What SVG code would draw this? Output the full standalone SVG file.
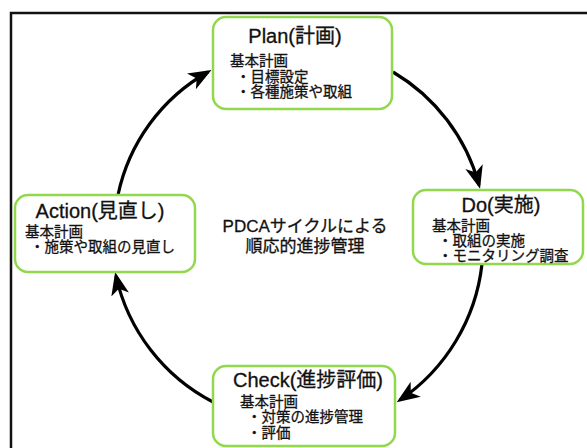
<svg xmlns="http://www.w3.org/2000/svg" width="587" height="448" viewBox="0 0 587 448">
<defs>
<style>
.box{fill:#fff;stroke:#92d84e;stroke-width:2.5}
.t{font-family:"Liberation Sans","Noto Sans CJK JP",sans-serif;fill:#111;stroke:#111;stroke-width:0.3}
.title{font-size:20px;text-anchor:middle}
.body{font-size:14.5px}
.center{font-size:17px;text-anchor:middle}
.arc{fill:none;stroke:#000;stroke-width:3.2}
</style>
<marker id="ah" markerUnits="userSpaceOnUse" markerWidth="28" markerHeight="22" refX="19" refY="11" orient="auto">
<path d="M0,2 L23,11 L0,20 L6,11 Z" fill="#000"/>
</marker>
</defs>
<rect width="587" height="448" fill="#fff"/>
<g id="frame">
<path d="M11,448 L11,13 L587,13" fill="none" stroke="#111" stroke-width="2.5"/>
</g>
<g id="connectors">
<path class="arc" d="M118,195 A185,185 0 0 1 208,72" marker-end="url(#ah)"/>
<path class="arc" d="M393,72 A188,188 0 0 1 479,185" marker-end="url(#ah)"/>
<path class="arc" d="M482,264 A190,190 0 0 1 400,400" marker-end="url(#ah)"/>
<path class="arc" d="M213,402 A188,188 0 0 1 116,276" marker-end="url(#ah)"/>
</g>
<g id="plan">
<rect class="box" x="213" y="17" width="179" height="92" rx="13"/>
<text class="t title" x="295" y="43">Plan(計画)</text>
<text class="t body" x="230" y="66">基本計画</text>
<text class="t body" x="236" y="82">・目標設定</text>
<text class="t body" x="236" y="97">・各種施策や取組</text>
</g>
<g id="do">
<rect class="box" x="413" y="190" width="170" height="74" rx="13"/>
<text class="t title" x="501" y="212">Do(実施)</text>
<text class="t body" x="432" y="231">基本計画</text>
<text class="t body" x="438" y="246">・取組の実施</text>
<text class="t body" x="438" y="261">・モニタリング調査</text>
</g>
<g id="action">
<rect class="box" x="15" y="195" width="180" height="77" rx="13"/>
<text class="t title" x="100" y="218">Action(見直し)</text>
<text class="t body" x="25" y="237">基本計画</text>
<text class="t body" x="30" y="252">・施策や取組の見直し</text>
</g>
<g id="check">
<rect class="box" x="213" y="366" width="182" height="80" rx="13"/>
<text class="t title" x="308" y="387">Check(進捗評価)</text>
<text class="t body" x="240" y="407">基本計画</text>
<text class="t body" x="247" y="422">・対策の進捗管理</text>
<text class="t body" x="247" y="438">・評価</text>
</g>
<g id="label">
<text class="t center" x="305" y="232">PDCAサイクルによる</text>
<text class="t center" x="305" y="252">順応的進捗管理</text>
</g>
</svg>
